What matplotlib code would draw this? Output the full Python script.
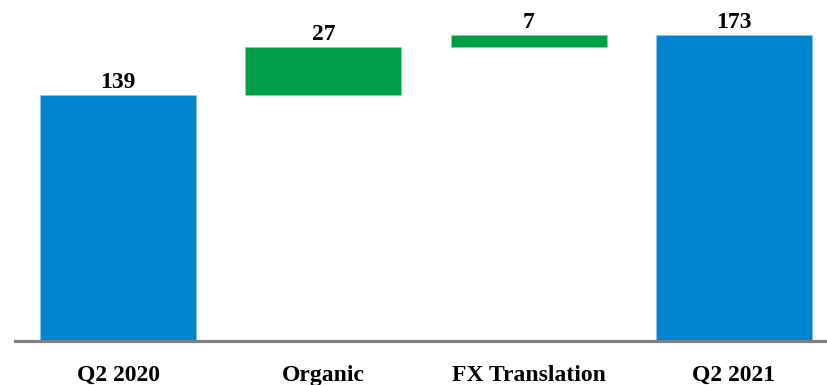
import matplotlib
matplotlib.use("Agg")
import matplotlib.pyplot as plt

categories = ["Q2 2020", "Organic", "FX Translation", "Q2 2021"]
values = [139, 27, 7, 173]
kinds = ["total", "delta", "delta", "total"]

BLUE = "#0086CF"
GREEN = "#009E48"

fig = plt.figure(figsize=(8.27, 3.85), dpi=100)
ax = fig.add_axes([15/827, 44/385, 1 - 15/827, 1 - 44/385])

running = 0
bottoms = []
for v, k in zip(values, kinds):
    if k == "total":
        bottoms.append(0)
        running = v
    else:
        bottoms.append(running)
        running += v

colors = [BLUE if k == "total" else GREEN for k in kinds]
x = list(range(len(categories)))
bars = ax.bar(x, values, bottom=bottoms, width=0.76, color=colors,
              linewidth=0.4, zorder=2)
for b, c in zip(bars, colors):
    b.set_edgecolor("#8cc8ea" if c == BLUE else "#8fd0a8")

font = {"family": "Liberation Serif", "weight": "bold", "size": 17}
for xi, v, b in zip(x, values, bottoms):
    ax.annotate(f"{v}", (xi, v + b), xytext=(0, 1.5), textcoords="offset points",
                ha="center", va="bottom", **font)

ax.set_xlim(-0.502, 3.453)
ax.set_ylim(0, 192.7)
ax.set_xticks(x)
ax.set_xticklabels(categories, fontdict=font)
ax.tick_params(axis="x", length=0, pad=17)
ax.set_yticks([])
for s in ["top", "left", "right"]:
    ax.spines[s].set_visible(False)
ax.spines["bottom"].set_color("#808080")
ax.spines["bottom"].set_linewidth(2.3)
ax.spines["bottom"].set_zorder(3)

fig.savefig("out.png", dpi=100)
